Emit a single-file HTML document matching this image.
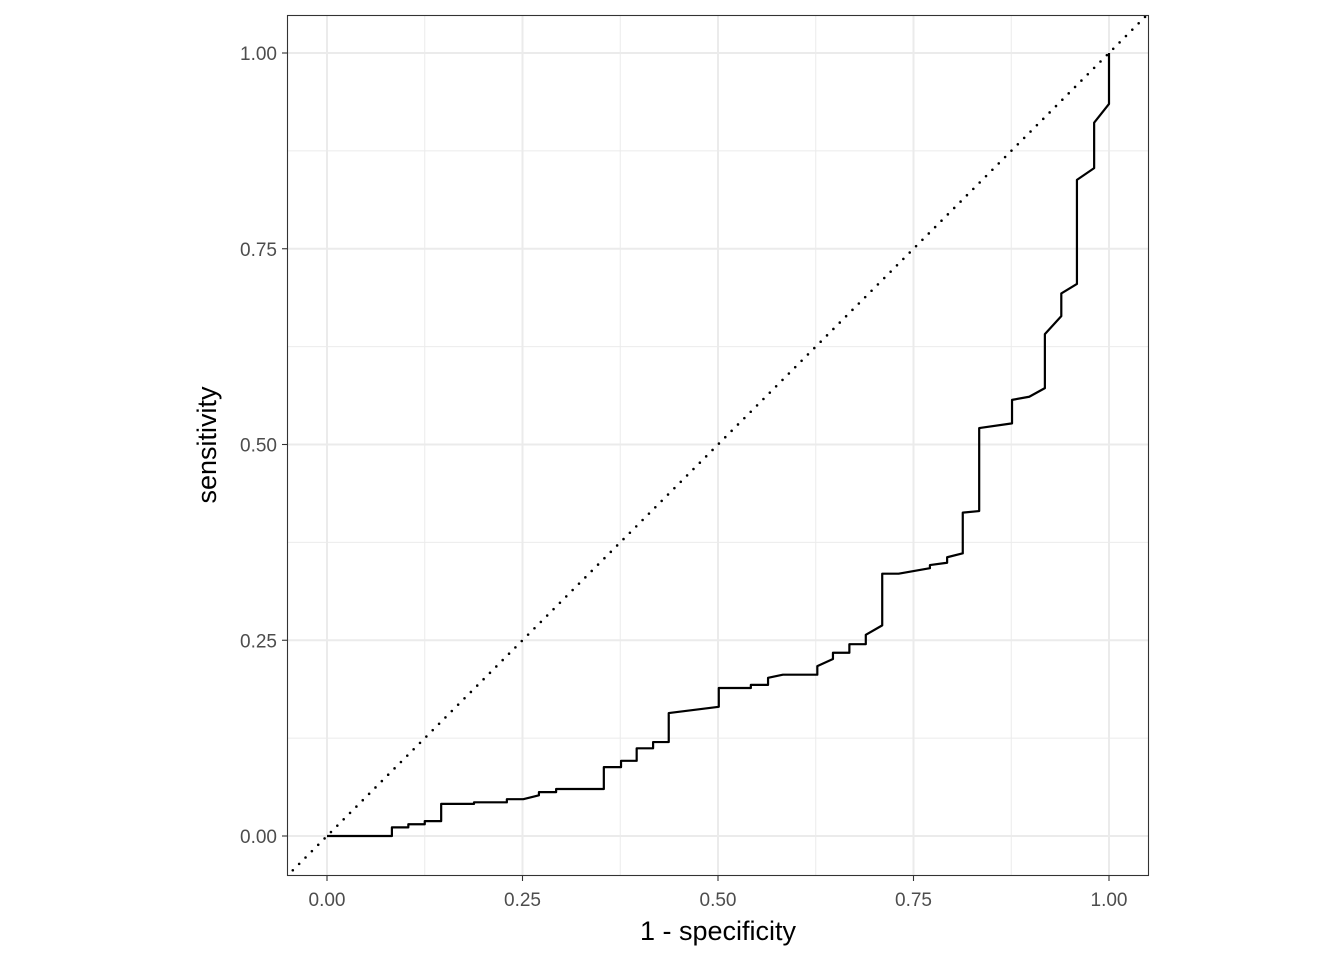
<!DOCTYPE html>
<html><head><meta charset="utf-8"><style>
html,body{margin:0;padding:0;background:#fff}
svg{display:block;font-family:"Liberation Sans",Arial,sans-serif}
</style></head><body>
<svg id="chart" width="1344" height="960" viewBox="0 0 1344 960" xmlns="http://www.w3.org/2000/svg">
<defs><clipPath id="pc"><rect x="287.5" y="15.5" width="861" height="860"/></clipPath></defs>
<g id="grid"></g>
<g id="marks" clip-path="url(#pc)"></g>
<rect x="287.5" y="15.5" width="861" height="860" fill="none" stroke="#333" stroke-width="1.1"/>
<g id="axes"></g>
<text x="718" y="940" text-anchor="middle" font-size="27" fill="#000">1 - specificity</text>
<text transform="translate(216,445) rotate(-90)" text-anchor="middle" font-size="27" fill="#000">sensitivity</text>
</svg>
<script>
const fpr=[0,.083,.083,.104,.104,.125,.125,.146,.146,.188,.188,.230,.230,.251,.271,.271,.293,.293,.354,.354,.376,.376,.396,.396,.417,.417,.437,.437,.501,.501,.542,.542,.564,.564,.583,.627,.627,.647,.647,.668,.668,.689,.689,.710,.710,.731,.771,.771,.793,.793,.813,.813,.834,.834,.876,.876,.898,.918,.918,.939,.939,.959,.959,.981,.981,1,1];
const tpr=[0,0,.011,.011,.015,.015,.019,.019,.041,.041,.043,.043,.047,.047,.052,.056,.056,.060,.060,.088,.088,.096,.096,.112,.112,.120,.120,.157,.165,.189,.189,.193,.193,.202,.206,.206,.217,.226,.234,.234,.245,.245,.257,.269,.335,.335,.342,.346,.349,.356,.361,.413,.415,.521,.527,.557,.561,.572,.641,.664,.693,.705,.838,.853,.911,.935,1];
const ticks=[0,0.25,0.5,0.75,1];
const tickLabels=["0.00","0.25","0.50","0.75","1.00"];
const minorTicks=[0.125,0.375,0.625,0.875];
const X=v=>327+v*782, Y=v=>836-v*783;
const NS="http://www.w3.org/2000/svg";
function mk(t,a,p){const e=document.createElementNS(NS,t);for(const k in a)e.setAttribute(k,a[k]);p.appendChild(e);return e;}
const grid=document.getElementById('grid'),marks=document.getElementById('marks'),axes=document.getElementById('axes');
minorTicks.forEach(v=>{
 let l=mk('line',{x1:X(v),x2:X(v),y1:15.5,y2:875.5,stroke:'#ebebeb','stroke-width':1},grid);
 
 
 l=mk('line',{x1:287.5,x2:1148.5,y1:Y(v),y2:Y(v),stroke:'#ebebeb','stroke-width':1},grid);
 
 
});
ticks.forEach((v,i)=>{
 let l=mk('line',{x1:X(v),x2:X(v),y1:15.5,y2:875.5,stroke:'#ebebeb','stroke-width':2},grid);
 
 
 l=mk('line',{x1:287.5,x2:1148.5,y1:Y(v),y2:Y(v),stroke:'#ebebeb','stroke-width':2},grid);
 
 
 l=mk('line',{x1:X(v),x2:X(v),y1:875.5,y2:881,stroke:'#333','stroke-width':1.1},axes);
 
 
 l=mk('line',{x1:282,x2:287.5,y1:Y(v),y2:Y(v),stroke:'#333','stroke-width':1.1},axes);
 
 
 let t=mk('text',{x:X(v),y:906,'text-anchor':'middle','font-size':19,fill:'#4d4d4d'},axes);
 t.textContent=tickLabels[i];
 
 
 t=mk('text',{x:277,y:Y(v)+7,'text-anchor':'end','font-size':19,fill:'#4d4d4d'},axes);
 t.textContent=tickLabels[i];
 
 
});
const d=mk('line',{x1:X(-0.06),y1:Y(-0.06),x2:X(1.06),y2:Y(1.06),stroke:'#000','stroke-width':2.6,'stroke-dasharray':'0 9','stroke-linecap':'round'},marks);


const p=mk('polyline',{points:fpr.map((v,i)=>X(v)+','+Y(tpr[i])).join(' '),fill:'none',stroke:'#000','stroke-width':2.2,'stroke-linejoin':'round'},marks);


</script>
</body></html>
